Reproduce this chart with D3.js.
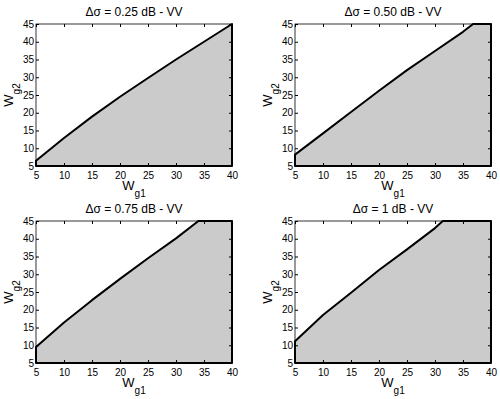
<!DOCTYPE html>
<html>
<head>
<meta charset="utf-8">
<script src="https://cdn.jsdelivr.net/npm/d3@7"></script>
<style>
  body { margin: 0; background: #fff; }
  svg text { font-family: "Liberation Sans", Arial, sans-serif; fill: #000; }
</style>
</head>
<body>
<div id="chart"></div>
<script>
// panel titles
var titles = ["\u0394\u03c3 = 0.25 dB - VV", "\u0394\u03c3 = 0.50 dB - VV",
              "\u0394\u03c3 = 0.75 dB - VV", "\u0394\u03c3 = 1 dB - VV"];

// boundary curves (Wg1 -> Wg2)
var wg1_025 = [5, 10, 15, 20, 25, 30, 35, 40];
var wg2_025 = [6.5, 12.9, 18.9, 24.5, 29.8, 35, 40, 45];

var wg1_050 = [5, 10, 15, 20, 25, 30, 35, 36.8, 40];
var wg2_050 = [8.2, 14.2, 20.2, 26.2, 32, 37.4, 42.8, 45, 45];

var wg1_075 = [5, 10, 15, 20, 25, 30, 34, 40];
var wg2_075 = [9.5, 16.4, 22.7, 28.7, 34.5, 40.1, 45, 45];

var wg1_100 = [5, 10, 15, 20, 25, 30, 31.4, 40];
var wg2_100 = [11.1, 18.5, 24.8, 31.2, 37, 43, 45, 45];

var xTicks = [5, 10, 15, 20, 25, 30, 35, 40];
var yTicks = [5, 10, 15, 20, 25, 30, 35, 40, 45];

var curves = [[wg1_025, wg2_025], [wg1_050, wg2_050], [wg1_075, wg2_075], [wg1_100, wg2_100]];

var width = 500, height = 399;
var pw = 196, ph = 142;
var lefts = [36, 295], tops = [24, 221];

var svg = d3.select("#chart").append("svg")
    .attr("width", width)
    .attr("height", height);

for (var i = 0; i < 4; ++i) {
    var x0 = lefts[i % 2], y0 = tops[Math.floor(i / 2)];

    var x = d3.scaleLinear().domain([5, 40]).range([0, pw]);
    var y = d3.scaleLinear().domain([5, 45]).range([ph, 0]);

    var g = svg.append("g").attr("transform", "translate(" + x0 + "," + y0 + ")");

    //feasible region: under the curve, closed down the right side
    var pts = [[5, 5]];
    for (var j = 0; j < curves[i][0].length; ++j) pts.push([curves[i][0][j], curves[i][1][j]]);
    pts.push([40, 5]);

    var area = d3.line().x(function(d) { return x(d[0]); }).y(function(d) { return y(d[1]); });

    g.append("path")
        .attr("d", area(pts) + "Z")
        .style("fill", "#cbcbcb")
        .style("stroke", "#000")
        .style("stroke-width", 2)
        .style("stroke-linejoin", "round");

    //box with inward ticks
    g.append("rect")
        .attr("width", pw).attr("height", ph)
        .style("fill", "none").style("stroke", "#000").style("stroke-width", 0.8);

    g.append("g").attr("transform", "translate(0," + ph + ")")
        .call(d3.axisBottom(x).tickValues(xTicks).tickSizeInner(-3).tickSizeOuter(0).tickPadding(6))
        .call(function(a) { a.select(".domain").remove(); a.selectAll("text").style("font-size", "10px"); });
    g.append("g")
        .call(d3.axisTop(x).tickValues(xTicks).tickSizeInner(-3).tickSizeOuter(0))
        .call(function(a) { a.select(".domain").remove(); a.selectAll("text").remove(); });
    g.append("g")
        .call(d3.axisLeft(y).tickValues(yTicks).tickSizeInner(-3).tickSizeOuter(0).tickPadding(2))
        .call(function(a) { a.select(".domain").remove(); a.selectAll("text").style("font-size", "10px"); });
    g.append("g").attr("transform", "translate(" + pw + ",0)")
        .call(d3.axisRight(y).tickValues(yTicks).tickSizeInner(-3).tickSizeOuter(0))
        .call(function(a) { a.select(".domain").remove(); a.selectAll("text").remove(); });

    //title
    g.append("text")
        .attr("x", pw / 2).attr("y", -8)
        .attr("text-anchor", "middle")
        .style("font-size", "12px")
        .text(titles[i]);

    //x label W_g1
    var xl = g.append("text")
        .attr("x", pw / 2).attr("y", ph + 24)
        .attr("text-anchor", "middle")
        .style("font-size", "13px");
    xl.append("tspan").text("W");
    xl.append("tspan").attr("dy", 7).style("font-size", "10px").text("g1");

    //y label W_g2
    var yl = g.append("text")
        .attr("transform", "translate(-23," + ph / 2 + ") rotate(-90)")
        .attr("text-anchor", "middle")
        .style("font-size", "13px");
    yl.append("tspan").text("W");
    yl.append("tspan").attr("dy", 7).style("font-size", "10px").text("g2");
}
</script>
</body>
</html>
